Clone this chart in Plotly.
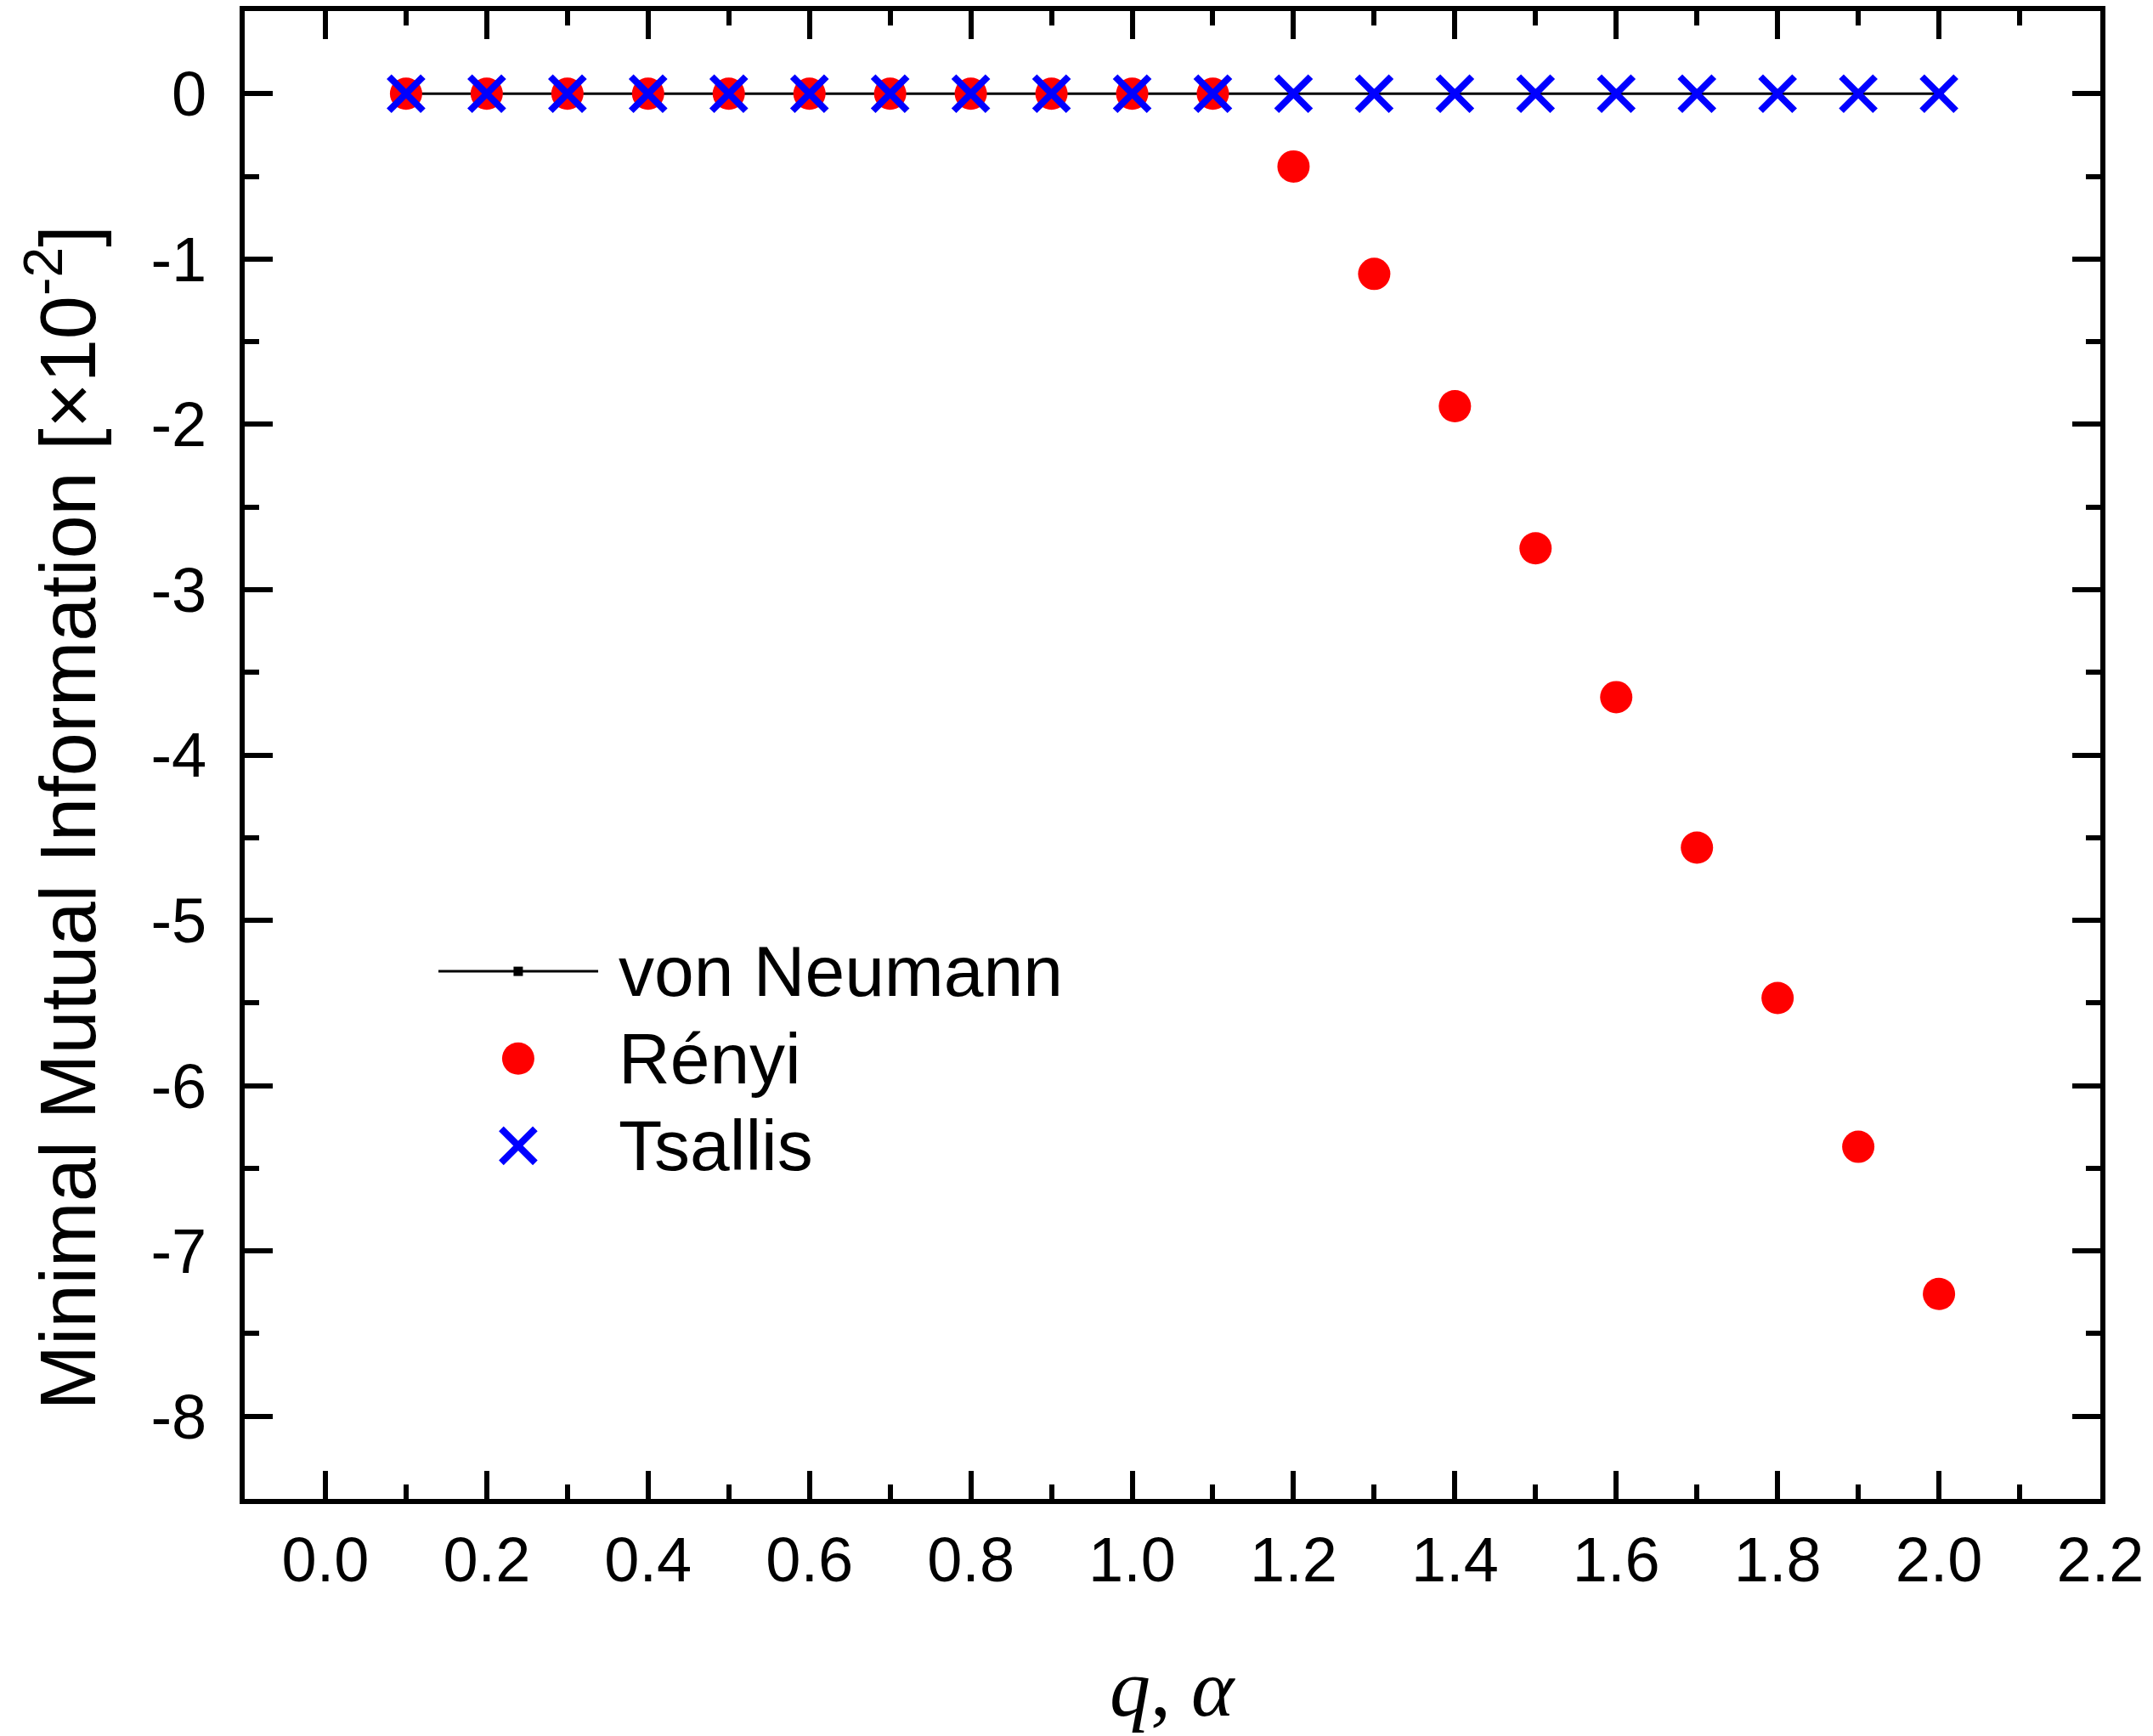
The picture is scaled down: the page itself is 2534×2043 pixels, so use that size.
import plotly.graph_objects as go

# q / alpha values
q = [0.1, 0.2, 0.3, 0.4, 0.5, 0.6, 0.7, 0.8, 0.9, 1.0,
     1.1, 1.2, 1.3, 1.4, 1.5, 1.6, 1.7, 1.8, 1.9, 2.0]

# minimal mutual information [x 10^-2]
von_neumann = [0, 0, 0, 0, 0, 0, 0, 0, 0, 0,
               0, 0, 0, 0, 0, 0, 0, 0, 0, 0]
renyi = [0, 0, 0, 0, 0, 0, 0, 0, 0, 0,
         0, -0.44, -1.09, -1.89, -2.75, -3.65, -4.56, -5.47, -6.37, -7.26]
tsallis = [0, 0, 0, 0, 0, 0, 0, 0, 0, 0,
           0, 0, 0, 0, 0, 0, 0, 0, 0, 0]

x_ticks = [0.0, 0.2, 0.4, 0.6, 0.8, 1.0, 1.2, 1.4, 1.6, 1.8, 2.0, 2.2]
y_ticks = [0, -1, -2, -3, -4, -5, -6, -7, -8]

names = ["von Neumann", "Rényi", "Tsallis"]

SANS = "Liberation Sans, Arial, sans-serif"
SERIF = "Liberation Serif, Times New Roman, serif"

vn_style = dict(mode="lines+markers", line=dict(color="black", width=3),
                marker=dict(symbol="square", size=11, color="black"))
re_style = dict(mode="markers", marker=dict(symbol="circle", size=38, color="#ff0000"))
ts_style = dict(mode="markers",
                marker=dict(symbol="x-thin", size=40, color="#0000ff",
                            line=dict(color="#0000ff", width=8)))

fig = go.Figure()
fig.add_trace(go.Scatter(x=q, y=von_neumann, name=names[0], showlegend=False, **vn_style))
fig.add_trace(go.Scatter(x=q, y=renyi, name=names[1], showlegend=False, **re_style))
fig.add_trace(go.Scatter(x=q, y=tsallis, name=names[2], showlegend=False, **ts_style))

# hand-made legend on an overlay axis (0..1 over the plot area)
leg_x0, leg_x1, leg_xc, leg_tx = 0.1044, 0.1905, 0.1474, 0.2005
leg_rows = [0.3546, 0.2960, 0.2374]
fig.add_trace(go.Scatter(x=[leg_x0, leg_x1], y=[leg_rows[0]] * 2, mode="lines",
                         line=vn_style["line"], xaxis="x2", yaxis="y2",
                         showlegend=False, hoverinfo="skip"))
fig.add_trace(go.Scatter(x=[leg_xc], y=[leg_rows[0]], mode="markers",
                         marker=vn_style["marker"], xaxis="x2", yaxis="y2",
                         showlegend=False, hoverinfo="skip"))
fig.add_trace(go.Scatter(x=[leg_xc], y=[leg_rows[1]], xaxis="x2", yaxis="y2",
                         showlegend=False, hoverinfo="skip", **re_style))
fig.add_trace(go.Scatter(x=[leg_xc], y=[leg_rows[2]], xaxis="x2", yaxis="y2",
                         showlegend=False, hoverinfo="skip", **ts_style))
for nm, yy in zip(names, leg_rows):
    fig.add_annotation(x=leg_tx, y=yy, xref="paper", yref="paper", text=nm,
                       showarrow=False, xanchor="left", yanchor="middle",
                       font=dict(family=SANS, size=84, color="black"))

# axis titles
fig.add_annotation(x=-0.0985, y=0.4576, xref="paper", yref="paper",
                   text="Minimal Mutual Information [×10<sup>-2</sup>]",
                   textangle=-90, showarrow=False, xanchor="center", yanchor="middle",
                   font=dict(family=SANS, size=92, color="black"))
fig.add_annotation(x=0.5, y=-0.127, xref="paper", yref="paper",
                   text="<i>q</i>, <i>α</i>", showarrow=False,
                   xanchor="center", yanchor="middle",
                   font=dict(family=SERIF, size=96, color="black"))

axis_common = dict(showline=True, linecolor="black", linewidth=6, mirror="ticks",
                   ticks="inside", ticklen=33, tickwidth=6, tickcolor="black",
                   showgrid=False, zeroline=False,
                   tickfont=dict(family=SANS, size=74, color="black"))

fig.update_layout(
    width=2534, height=2043,
    margin=dict(l=288, r=62, t=7, b=279),
    paper_bgcolor="white", plot_bgcolor="white",
    showlegend=False,
    xaxis=dict(range=[-0.1, 2.2], tickvals=x_ticks,
               ticktext=[f"{v:.1f}" for v in x_ticks],
               minor=dict(ticks="inside", ticklen=17, tickwidth=6, tickcolor="black",
                          dtick=0.1, tick0=0, showgrid=False),
               ticklabelstandoff=2, **axis_common),
    yaxis=dict(range=[-8.5, 0.5], tickvals=y_ticks,
               ticktext=[f"{v:d}" for v in y_ticks],
               minor=dict(ticks="inside", ticklen=17, tickwidth=6, tickcolor="black",
                          dtick=0.5, tick0=0, showgrid=False),
               ticklabelstandoff=24, **axis_common),
    xaxis2=dict(overlaying="x", range=[0, 1], visible=False),
    yaxis2=dict(overlaying="y", range=[0, 1], visible=False),
)

fig.write_html("out.html", config={"displayModeBar": False},
               post_script="document.body.style.margin='0px';")
